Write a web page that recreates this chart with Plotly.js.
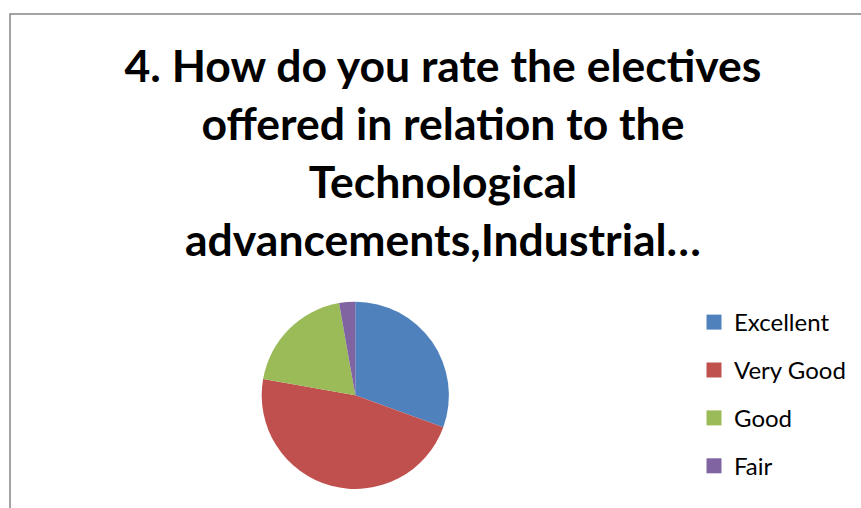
<!DOCTYPE html>
<html><head><meta charset="utf-8">
<script src="https://cdn.plot.ly/plotly-3.0.1.min.js"></script>
<style>html,body{margin:0;padding:0;background:#fff}#chart{width:861px;height:508px}</style>
</head><body><div id="chart"></div>
<script>
const titleLines = ["4. How do you rate the electives", "offered in relation to the", "Technological", "advancements,Industrial…"];
const categories = ["Excellent", "Very Good", "Good", "Fair"];
const responses = [11, 17, 7, 1];
const colors = ["#4F81BD", "#C0504D", "#9BBB59", "#8064A2"];

const W = 861, H = 508;
const cx = 355.3, cy = 395.3, r = 93.6;

const pie = {
  type: 'pie',
  labels: categories,
  values: responses,
  sort: false,
  direction: 'clockwise',
  rotation: 0,
  textinfo: 'none',
  hoverinfo: 'label+value+percent',
  showlegend: false,
  marker: {colors: colors, line: {width: 0}},
  domain: {x: [(cx - r) / W, (cx + r) / W], y: [(H - cy - r) / H, (H - cy + r) / H]}
};

const legendTraces = categories.map((c, i) => ({
  type: 'scatter', mode: 'markers', x: [null], y: [null],
  name: c, legendgroup: c, hoverinfo: 'skip',
  marker: {symbol: 'square', size: 15, color: colors[i]}
}));

const layout = {
  width: W, height: H,
  margin: {l: 0, r: 0, t: 0, b: 0},
  paper_bgcolor: '#fff', plot_bgcolor: '#fff',
  xaxis: {visible: false}, yaxis: {visible: false},
  title: {
    text: titleLines.join('<br>'),
    font: {family: 'Lato', size: 44.5, color: '#000', weight: 'bold'},
    x: 443 / W, xanchor: 'center', xref: 'container',
    y: 1 - 82 / H, yanchor: 'top', yref: 'container'
  },
  legend: {
    x: 694 / W, xanchor: 'left', y: 1 - 300 / H, yanchor: 'top',
    font: {family: 'Lato', size: 24, color: '#000'},
    tracegroupgap: 13.7, bgcolor: 'rgba(0,0,0,0)', borderwidth: 0
  },
  shapes: [{
    type: 'rect', xref: 'paper', yref: 'paper',
    x0: 10 / W, x1: 1.05, y0: -0.05, y1: 1 - 14 / H,
    line: {color: '#868686', width: 1.5}, fillcolor: 'rgba(0,0,0,0)'
  }]
};

Plotly.newPlot('chart', [pie].concat(legendTraces), layout, {displayModeBar: false, staticPlot: true});
</script>
</body></html>
